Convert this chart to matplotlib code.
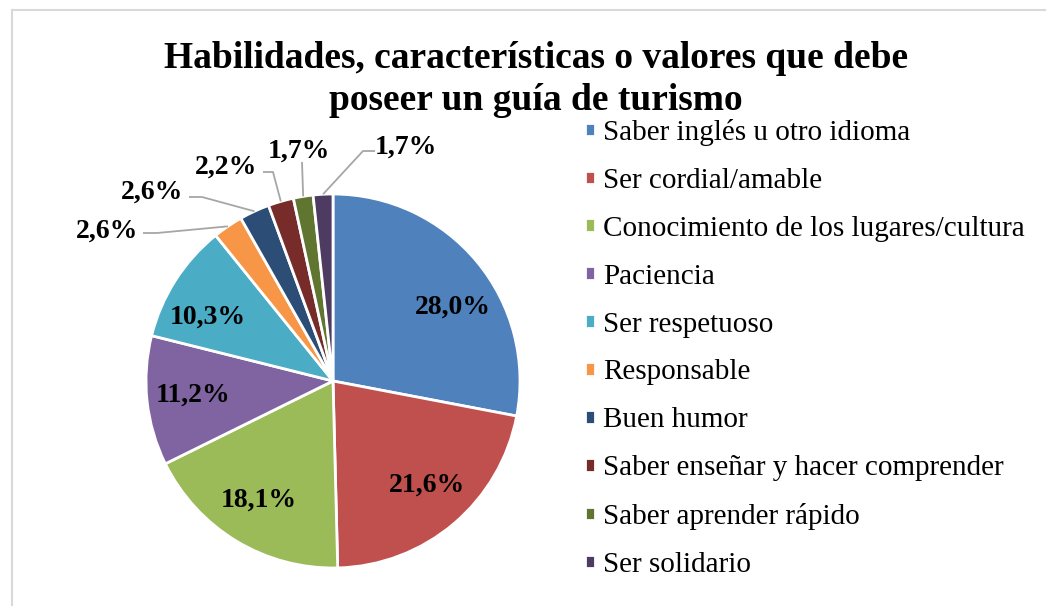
import matplotlib.pyplot as plt
import numpy as np
from matplotlib.lines import Line2D

# data
categories = [
    "Saber inglés u otro idioma",
    "Ser cordial/amable",
    "Conocimiento de los lugares/cultura",
    "Paciencia",
    "Ser respetuoso",
    "Responsable",
    "Buen humor",
    "Saber enseñar y hacer comprender",
    "Saber aprender rápido",
    "Ser solidario",
]
values = [28.0, 21.6, 18.1, 11.2, 10.3, 2.6, 2.6, 2.2, 1.7, 1.7]
colors = ["#4F81BD", "#C0504D", "#9BBB59", "#8064A2", "#4BACC6",
          "#F79646", "#2C4D75", "#772C2A", "#5F7530", "#4D3B62"]
title_lines = ["Habilidades, características o valores que debe",
               "poseer un guía de turismo"]

W, H = 1046, 606
cx, cy, R = 333, H - 381, 187

# callout layout for the small slices (image pixels: text centre, elbow, line end)
callouts = {
    5: ((107, 231), (157, 233), (143, 233)),
    6: ((152, 192), (202, 197), (189, 197)),
    7: ((226, 167), (273, 172), (263, 172)),
    8: ((299, 151), (302, 162), (302, 162)),
    9: ((406, 147), (363, 151), (375, 151)),
}
# angle nudges (degrees) for the labels drawn inside the slices
inside_nudge = {0: -8, 1: 2, 2: -1, 3: -0.5, 4: 5.5}

plt.rcParams['font.family'] = ['Liberation Serif', 'DejaVu Serif']

fig = plt.figure(figsize=(W / 100, H / 100), dpi=100)
ax = fig.add_axes([0, 0, 1, 1])

wedges, _ = ax.pie(values, colors=colors, startangle=90, counterclock=False,
                   center=(cx, cy), radius=R,
                   wedgeprops=dict(edgecolor='white', linewidth=2))
ax.set_xlim(0, W)
ax.set_ylim(0, H)
ax.set_aspect('equal')
ax.axis('off')

labels = [f"{v:.1f}%".replace(".", ",") for v in values]
cum = np.cumsum(values) - np.array(values) / 2
mid = 90 - cum / sum(values) * 360

for i, lab in enumerate(labels):
    if i in callouts:
        (tx, ty), (ex, ey), (lx, ly) = callouts[i]
        a = np.deg2rad(mid[i])
        px, py = cx + R * np.cos(a), cy + R * np.sin(a)
        ax.plot([px, ex, lx], [py, H - ey, H - ly], color='#A6A6A6', lw=1.3,
                solid_capstyle='butt')
        ax.text(tx, H - ty, lab, ha='center', va='center', fontsize=20,
                fontweight='bold')
    else:
        a = np.deg2rad(mid[i] + inside_nudge.get(i, 0))
        r = 0.75 * R
        ax.text(cx + r * np.cos(a), cy + r * np.sin(a), lab,
                ha='center', va='center', fontsize=20, fontweight='bold')

fig.text(536 / W, 1 - 58 / H, title_lines[0], ha='center', va='center',
         fontsize=27, fontweight='bold')
fig.text(536 / W, 1 - 100 / H, title_lines[1], ha='center', va='center',
         fontsize=27, fontweight='bold')

ax.legend(wedges, categories, loc='upper left',
          bbox_to_anchor=(585 / W, 1 - 119 / H), bbox_transform=fig.transFigure,
          frameon=False, fontsize=21, handlelength=0.35, handleheight=0.35,
          handletextpad=0.28, labelspacing=0.75, borderpad=0, borderaxespad=0)

# light chart border
fig.add_artist(Line2D([11.5 / W, 11.5 / W], [0, 1 - 9.5 / H], color='#D9D9D9',
                      lw=1.5, transform=fig.transFigure))
fig.add_artist(Line2D([11.5 / W, 1], [1 - 9.5 / H, 1 - 9.5 / H], color='#D9D9D9',
                      lw=1.5, transform=fig.transFigure))

fig.savefig("out.png", dpi=100)
